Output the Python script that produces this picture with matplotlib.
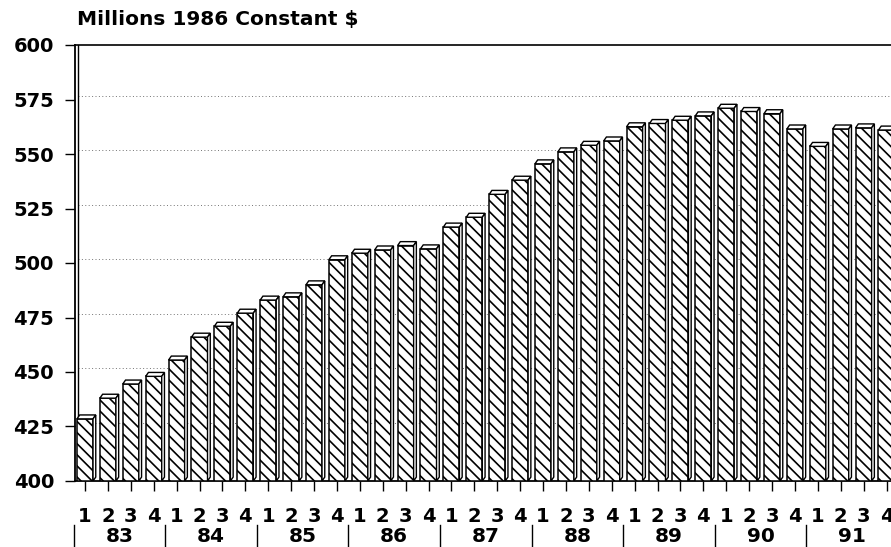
import matplotlib
matplotlib.use("Agg")
import matplotlib.pyplot as plt
from matplotlib.patches import Polygon
import matplotlib.transforms as mtransforms

# ---- data ----
years = ["83", "84", "85", "86", "87", "88", "89", "90", "91"]
quarters = ["1", "2", "3", "4"]
values = [428.5, 438, 444.5, 448,
          455.5, 466, 471, 477,
          483, 484.5, 490, 501.5,
          504.5, 506, 508, 506.5,
          516.5, 521, 531.5, 538,
          545.5, 551, 554, 556,
          562.5, 564, 565.5, 567.5,
          571, 569.5, 568.5, 561.5,
          553.5, 561.5, 562, 561]
y_ticks = [400, 425, 450, 475, 500, 525, 550, 575, 600]
title = "Millions 1986 Constant $"

plt.rcParams["font.family"] = ["DejaVu Sans"]
plt.rcParams["hatch.linewidth"] = 1.2

W, H = 891, 547
fig = plt.figure(figsize=(W / 100, H / 100), dpi=100)
px_per_bar = 22.9
x0_px = 85.0
ax_left_px, ax_right_px = 75.0, 900.0
ax_top_px, ax_bot_px = 45.0, 481.0
ax = fig.add_axes([ax_left_px / W, (H - ax_bot_px) / H,
                   (ax_right_px - ax_left_px) / W, (ax_bot_px - ax_top_px) / H])

n = len(values)
xs = list(range(n))
ax.set_xlim((ax_left_px - x0_px) / px_per_bar, (ax_right_px - x0_px) / px_per_bar)
ax.set_ylim(y_ticks[0], y_ticks[-1])

bw = 0.70
dx = 0.12   # depth offset in x (data units)
dy = 1.8    # depth offset in y (data units)

# back-wall grid lines
for yv in y_ticks[1:-1]:
    ax.plot([ax.get_xlim()[0] + dx, ax.get_xlim()[1]], [yv + dy, yv + dy],
            linestyle=(0, (1, 2.5)), color="0.45", linewidth=0.7, zorder=0)

# back-wall left edge (double line effect)
ax.plot([ax.get_xlim()[0] + dx, ax.get_xlim()[0] + dx], [400 + dy, 600],
        color="black", linewidth=1.0, zorder=1)

bars = ax.bar(xs, [v - 400 for v in values], bottom=400, width=bw,
              facecolor="white", edgecolor="black", hatch="\\\\\\",
              linewidth=1.1, zorder=3)

for x, v in zip(xs, values):
    l, r = x - bw / 2, x + bw / 2
    top = Polygon([(l, v), (r, v), (r + dx, v + dy), (l + dx, v + dy)],
                  closed=True, facecolor="white", edgecolor="black",
                  linewidth=1.0, zorder=4)
    side = Polygon([(r, 400), (r + dx, 400 + dy), (r + dx, v + dy), (r, v)],
                   closed=True, facecolor="white", edgecolor="black",
                   linewidth=1.0, zorder=4)
    ax.add_patch(top)
    ax.add_patch(side)

# spines
ax.spines["right"].set_visible(False)
ax.spines["top"].set_linewidth(1.2)
ax.spines["left"].set_linewidth(1.3)
ax.spines["bottom"].set_linewidth(1.3)

ax.set_yticks(y_ticks)
ax.set_yticklabels([str(t) for t in y_ticks], fontsize=14, fontweight="bold")
ax.tick_params(axis="y", direction="out", length=7, width=1.0, pad=8)

ax.set_xticks(xs)
ax.set_xticklabels([quarters[i % 4] for i in xs], fontsize=14, fontweight="bold")
ax.tick_params(axis="x", direction="out", length=7, width=1.0, pad=12)

# year labels and separators
trans = mtransforms.blended_transform_factory(ax.transData, fig.transFigure)
y_year = 1 - 536 / H
for i, yr in enumerate(years):
    cx = i * 4 + 1.5
    ax.text(cx, y_year, yr, transform=trans, ha="center", va="center",
            fontsize=14.5, fontweight="bold", clip_on=False)
    sep_x = i * 4 - 0.5
    ax.plot([sep_x, sep_x], [1 - 525 / H, 1 - 546 / H], transform=trans,
            color="black", linewidth=1.0, clip_on=False)

fig.text(77 / W, 1 - 20 / H, title, ha="left", va="center",
         fontsize=14.5, fontweight="bold")

fig.savefig("out.png", dpi=100)
